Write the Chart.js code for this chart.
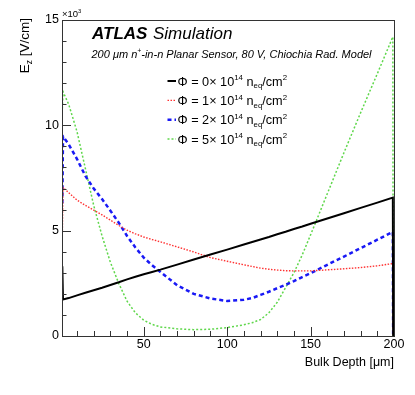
<!DOCTYPE html>
<html>
<head>
<meta charset="utf-8">
<script src="https://cdn.jsdelivr.net/npm/chart.js@4.4.1/dist/chart.umd.min.js"></script>
<style>
  body { margin: 0; background: #fff; }
  #wrap { width: 415px; height: 395px; }
</style>
</head>
<body>
<div id="wrap"><canvas id="myChart" width="415" height="395"></canvas></div>
<script>
// bulk depth [um], shared by all curves
const depth = [1.2, 1.6, 5, 10, 15, 20, 25, 30, 35, 40, 45, 50, 55, 60, 70, 80, 90, 100,
    110, 115, 120, 125, 130, 135, 140, 145, 150, 160, 170, 180, 190, 199.3, 199.5];

// E_z in 10^3 V/cm, one array per fluence
const ezPhi0 = [3.31, 1.73, 1.8, 1.93, 2.05, 2.17, 2.29, 2.42, 2.55, 2.69, 2.81, 2.93, 3.04, 3.15,
    3.39, 3.63, 3.87, 4.10, 4.34, 4.46, 4.58, 4.70, 4.83, 4.95, 5.08, 5.20, 5.33,
    5.58, 5.83, 6.08, 6.33, 6.57, 0];
const ezPhi1 = [4.86, 7.05, 6.8, 6.45, 6.2, 5.98, 5.75, 5.5, 5.25, 5.02, 4.85, 4.70, 4.58, 4.47,
    4.23, 3.99, 3.72, 3.55, 3.38, 3.3, 3.22, 3.17, 3.13, 3.1, 3.09, 3.09, 3.09,
    3.14, 3.19, 3.25, 3.33, 3.44, 0];
const ezPhi2 = [6.3, 9.47, 9.1, 8.4, 7.6, 7.0, 6.5, 5.95, 5.38, 4.75, 4.2, 3.72, 3.36, 3.04,
    2.41, 2.0, 1.78, 1.66, 1.72, 1.8, 1.95, 2.1, 2.27, 2.43, 2.6, 2.8, 2.98,
    3.38, 3.77, 4.17, 4.57, 4.94, 0];
const ezPhi5 = [10.8, 11.6, 11.0, 9.7, 7.95, 6.2, 4.75, 3.5, 2.5, 1.65, 1.1, 0.75, 0.55, 0.43,
    0.34, 0.3, 0.32, 0.4, 0.53, 0.63, 0.78, 1.1, 1.6, 2.3, 3.0, 3.85, 4.8,
    6.75, 8.7, 10.6, 12.45, 14.2, 0];

const fluences = ['0', '1', '2', '5'];
const xTickLabels = [50, 100, 150, 200];
const yTickLabels = [0, 5, 10, 15];

const family = "'Liberation Sans', Arial, Helvetica, sans-serif";

const seriesStyle = [
    { color: '#000000', width: 2, dash: [] },
    { color: 'rgb(255,50,50)', width: 1.4, dash: [1.5, 1.5] },
    { color: 'rgb(25,25,245)', width: 2.5, dash: [4, 3] },
    { color: 'rgb(95,215,75)', width: 1.5, dash: [2, 2] },
];

function toPoints(values) {
    return depth.map((d, i) => ({ x: d, y: values[i] }));
}

// text with super/subscripts, y = baseline
function richWidth(ctx, parts, size, style) {
    let w = 0;
    for (const p of parts) {
        const fs = (p.sup || p.sub) ? size * 0.62 : size;
        ctx.font = `${style} ${fs}px ${family}`;
        w += ctx.measureText(p.t).width;
    }
    return w;
}
function drawRich(ctx, x, y, parts, size, style) {
    for (const p of parts) {
        let fs = size, dy = 0;
        if (p.sup) { fs = size * 0.62; dy = -size * 0.42; }
        if (p.sub) { fs = size * 0.62; dy = size * 0.22; }
        ctx.font = `${style} ${fs}px ${family}`;
        ctx.fillText(p.t, x, y + dy);
        x += ctx.measureText(p.t).width;
    }
    return x;
}

const frameAndTicks = {
    id: 'frameAndTicks',
    afterDraw(chart) {
        const ctx = chart.ctx;
        const a = chart.chartArea;
        const sx = chart.scales.x, sy = chart.scales.y;
        ctx.save();
        ctx.strokeStyle = '#333';
        ctx.lineWidth = 1;
        ctx.setLineDash([]);
        ctx.beginPath();
        // inward ticks
        for (let v = 10; v < 200; v += 10) {
            const px = Math.round(sx.getPixelForValue(v)) + 0.5;
            const len = v % 50 === 0 ? 9 : 5;
            ctx.moveTo(px, a.bottom);
            ctx.lineTo(px, a.bottom - len);
        }
        for (let v = 1; v < 15; v++) {
            const py = Math.round(sy.getPixelForValue(v)) + 0.5;
            const len = v % 5 === 0 ? 9 : 4.5;
            ctx.moveTo(a.left, py);
            ctx.lineTo(a.left + len, py);
        }
        ctx.stroke();
        ctx.strokeRect(Math.round(a.left) + 0.5, Math.round(a.top) + 0.5,
            Math.round(a.right - a.left), Math.round(a.bottom - a.top));
        ctx.restore();
    }
};

const texts = {
    id: 'texts',
    afterDraw(chart) {
        const ctx = chart.ctx;
        ctx.save();
        ctx.fillStyle = '#000';
        ctx.textBaseline = 'alphabetic';
        ctx.textAlign = 'left';

        // ATLAS label
        ctx.font = `italic bold 17px ${family}`;
        ctx.fillText('ATLAS', 92, 38.5);
        ctx.font = `italic 17px ${family}`;
        ctx.fillText('Simulation', 153, 38.5);

        drawRich(ctx, 91.5, 58, [
            { t: '200 \u03bcm n' }, { t: '+', sup: true },
            { t: '-in-n Planar Sensor, 80 V, Chiochia Rad. Model' }
        ], 11, 'italic');

        // x10^3 above the y axis
        drawRich(ctx, 62, 17, [{ t: '\u00d710' }, { t: '3', sup: true }], 9.5, 'normal');

        // y title, rotated
        const yParts = [{ t: 'E' }, { t: 'z', sub: true }, { t: ' [V/cm]' }];
        const yw = richWidth(ctx, yParts, 13.5, 'normal');
        ctx.translate(29, 18 + yw);
        ctx.rotate(-Math.PI / 2);
        drawRich(ctx, 0, 0, yParts, 13.5, 'normal');
        ctx.setTransform(1, 0, 0, 1, 0, 0);

        // legend
        chart.data.datasets.forEach((ds, i) => {
            const yc = 81 + i * 19.35;
            ctx.strokeStyle = ds.borderColor;
            ctx.lineWidth = ds.borderWidth;
            ctx.setLineDash(ds.borderDash);
            ctx.beginPath();
            ctx.moveTo(167.5, yc);
            ctx.lineTo(176, yc);
            ctx.stroke();
            ctx.setLineDash([]);
            drawRich(ctx, 177.5, yc + 4.6, [
                { t: '\u03a6 = ' + fluences[i] + '\u00d7 10' }, { t: '14', sup: true },
                { t: ' n' }, { t: 'eq', sub: true }, { t: '/cm' }, { t: '2', sup: true }
            ], 12.7, 'normal');
        });
        ctx.restore();
    }
};

const allSeries = [ezPhi0, ezPhi1, ezPhi2, ezPhi5];

const ctx = document.getElementById('myChart').getContext('2d');
const myChart = new Chart(ctx, {
    type: 'line',
    data: {
        datasets: allSeries.map((vals, i) => ({
            label: 'Phi = ' + fluences[i],
            data: toPoints(vals),
            borderColor: seriesStyle[i].color,
            borderWidth: seriesStyle[i].width,
            borderDash: seriesStyle[i].dash,
            pointRadius: 0,
            tension: 0,
            fill: false,
        })),
    },
    options: {
        responsive: false,
        animation: false,
        events: [],
        layout: { padding: { left: 0, right: 21, top: 20, bottom: 0 } },
        plugins: {
            legend: { display: false },
            tooltip: { enabled: false },
        },
        scales: {
            x: {
                type: 'linear',
                min: 1,
                max: 200,
                afterFit: (s) => { s.height = 59; },
                afterBuildTicks: (s) => { s.ticks = xTickLabels.map((v) => ({ value: v })); },
                grid: { display: false, drawTicks: false },
                border: { display: false },
                ticks: {
                    color: '#000',
                    font: { family: family, size: 12.5 },
                    padding: 1,
                    autoSkip: false,
                    maxRotation: 0,
                },
                title: {
                    display: true,
                    text: 'Bulk Depth [\u03bcm]',
                    align: 'end',
                    color: '#000',
                    font: { family: family, size: 12.5 },
                    padding: { top: 0, bottom: 25 },
                },
            },
            y: {
                min: 0,
                max: 15,
                afterFit: (s) => { s.width = 62; },
                afterBuildTicks: (s) => { s.ticks = yTickLabels.map((v) => ({ value: v })); },
                grid: { display: false, drawTicks: false },
                border: { display: false },
                ticks: {
                    color: '#000',
                    font: { family: family, size: 12.5 },
                    padding: 3,
                },
            },
        },
    },
    plugins: [frameAndTicks, texts],
});
</script>
</body>
</html>
